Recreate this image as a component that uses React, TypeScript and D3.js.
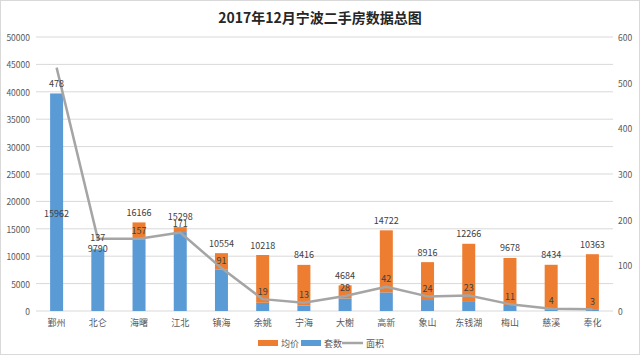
import React from "react";
import * as d3 from "d3";

const categories = ["鄞州", "北仑", "海曙", "江北", "镇海", "余姚", "宁海", "大榭", "高新", "象山", "东钱湖", "梅山", "慈溪", "奉化"];
const blueValues = [39700, 11260, 13100, 14400, 7600, 1500, 1000, 2300, 3400, 2000, 1800, 1100, 300, 200];
const orangeValues = [0, 0, 3066, 898, 2954, 8718, 7416, 2384, 11322, 6916, 10466, 8578, 8134, 10163];
const lineValues = [533, 158, 158, 172, 94, 26, 18, 33, 53, 32, 34, 15, 5, 4];
const priceLabels = ["15962", "9790", "16166", "15298", "10554", "10218", "8416", "4684", "14722", "8916", "12266", "9678", "8434", "10363"];
const countLabels = ["478", "137", "157", "171", "91", "19", "13", "28", "42", "24", "23", "11", "4", "3"];
const leftTicks = [0, 5000, 10000, 15000, 20000, 25000, 30000, 35000, 40000, 45000, 50000];
const rightTicks = [0, 100, 200, 300, 400, 500, 600];
const legendItems = ["均价", "套数", "面积"];

const W = 640, H = 357;
const plot = { left: 36, right: 613, top: 37, bottom: 311 };
const BLUE = "#5B9BD5", ORANGE = "#ED7D31", GRAY = "#A5A5A5";
const FONT = "'Noto Sans CJK SC', 'Noto Sans', sans-serif";

export default function App() {
  const x = d3.scaleBand<string>().domain(categories).range([plot.left, plot.right]).padding(0);
  const yL = d3.scaleLinear().domain([0, 50000]).range([plot.bottom, plot.top]);
  const yR = d3.scaleLinear().domain([0, 600]).range([plot.bottom, plot.top]);
  const bw = 13;
  const cx = (c: string) => (x(c) as number) + x.bandwidth() / 2;

  const line = d3.line<number>().x((_, i) => cx(categories[i])).y((d) => yR(d)).curve(d3.curveLinear);

  const priceDy = (i: number, top: number) => (i === 0 ? top + 120 : i === 1 ? top - 1 : i === 3 ? top - 11 : top - 10);
  const countDy = (i: number, py: number) => (i === 0 ? py + 16 : i === 1 ? py - 1 : i === 3 ? py - 9 : py - 8);

  return (
    <svg width={W} height={H} style={{ position: "absolute", left: 0, top: 0, background: "#fff" }} fontFamily={FONT}>
      <rect x={0.5} y={0.5} width={W - 1} height={H - 3} fill="#fff" stroke="#D9D9D9" />
      <text x={320} y={17} textAnchor="middle" dominantBaseline="central" fontSize={14} fontWeight="bold" fill="#262626">
        2017年12月宁波二手房数据总图
      </text>
      {leftTicks.map((t) => (
        <g key={"l" + t}>
          <line x1={plot.left} x2={plot.right} y1={yL(t)} y2={yL(t)} stroke="#D9D9D9" strokeWidth={1} />
          <text x={30} y={yL(t)} textAnchor="end" dominantBaseline="central" fontSize={8.5} fill="#595959">{t}</text>
        </g>
      ))}
      {rightTicks.map((t) => (
        <text key={"r" + t} x={618} y={yR(t)} textAnchor="start" dominantBaseline="central" fontSize={8.5} fill="#595959">{t}</text>
      ))}
      {categories.map((c, i) => {
        const b0 = yL(0), b1 = yL(blueValues[i]), o1 = yL(blueValues[i] + orangeValues[i]);
        return (
          <g key={c}>
            <rect x={cx(c) - bw / 2} y={b1} width={bw} height={b0 - b1} fill={BLUE} />
            {orangeValues[i] > 0 && <rect x={cx(c) - bw / 2} y={o1} width={bw} height={b1 - o1} fill={ORANGE} />}
            <text x={cx(c)} y={322} textAnchor="middle" dominantBaseline="central" fontSize={9} fill="#595959">{c}</text>
          </g>
        );
      })}
      <path d={line(lineValues) || ""} fill="none" stroke={GRAY} strokeWidth={2.5} strokeLinejoin="round" />
      {categories.map((c, i) => {
        const top = yL(blueValues[i] + orangeValues[i]);
        const py = yR(lineValues[i]);
        return (
          <g key={"lab" + c}>
            <text x={cx(c)} y={priceDy(i, top)} textAnchor="middle" dominantBaseline="central" fontSize={9} fill="#404040">{priceLabels[i]}</text>
            <text x={cx(c)} y={countDy(i, py)} textAnchor="middle" dominantBaseline="central" fontSize={9} fill="#404040">{countLabels[i]}</text>
          </g>
        );
      })}
      <g>
        <rect x={258} y={340} width={20} height={6} fill={ORANGE} />
        <text x={281} y={343} dominantBaseline="central" fontSize={9} fill="#595959">{legendItems[0]}</text>
        <rect x={301} y={340} width={20} height={6} fill={BLUE} />
        <text x={324} y={343} dominantBaseline="central" fontSize={9} fill="#595959">{legendItems[1]}</text>
        <line x1={342} x2={363} y1={343} y2={343} stroke={GRAY} strokeWidth={2.5} />
        <text x={366} y={343} dominantBaseline="central" fontSize={9} fill="#595959">{legendItems[2]}</text>
      </g>
    </svg>
  );
}
